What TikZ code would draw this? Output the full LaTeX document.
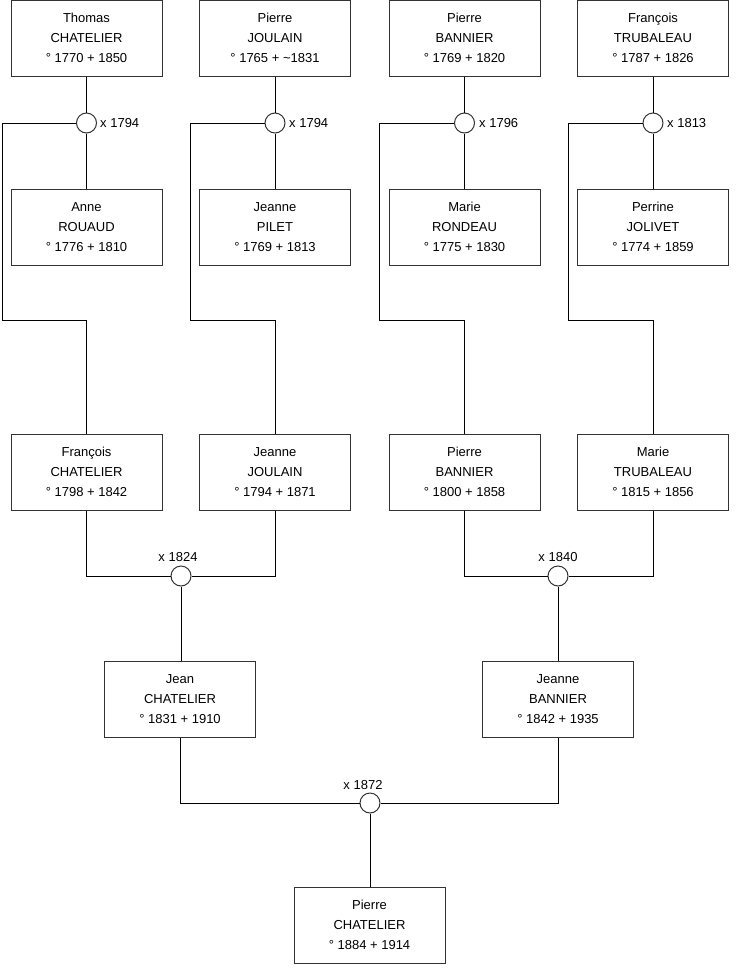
\documentclass[tikz,border=0pt]{standalone}
\usepackage{fontspec}
\setmainfont{Liberation Sans}
\newcommand\personText[3]{\raisebox{3pt}{\begin{tabular}{@{}c@{}}#1\\#2\\#3\end{tabular}}}
\begin{document}
\begin{tikzpicture}[x=1pt,y=-1pt,
  person/.style={draw=black!80,line width=1pt,minimum width=151pt,minimum height=76pt,inner sep=0pt,
    font=\fontsize{13}{20}\selectfont,fill=white},
  marr/.style={circle,draw=black!80,line width=1pt,minimum size=20pt,inner sep=0pt,fill=white},
  lbl/.style={font=\fontsize{13}{16}\selectfont,inner sep=0pt},
  link/.style={draw=black,line width=1pt}]
\useasboundingbox (0,0) rectangle (740,975);
% top row
\node[person] (p1) at (86.5,38.5) {\personText{Thomas}{CHATELIER}{° 1770 + 1850}};
\node[person] (p2) at (275,38.5) {\personText{Pierre}{JOULAIN}{° 1765 + \textasciitilde1831}};
\node[person] (p3) at (464.5,38.5) {\personText{Pierre}{BANNIER}{° 1769 + 1820}};
\node[person] (p4) at (653,38.5) {\personText{François}{TRUBALEAU}{° 1787 + 1826}};
% wives
\node[person] (w1) at (86.5,227) {\personText{Anne}{ROUAUD}{° 1776 + 1810}};
\node[person] (w2) at (275,227) {\personText{Jeanne}{PILET}{° 1769 + 1813}};
\node[person] (w3) at (464.5,227) {\personText{Marie}{RONDEAU}{° 1775 + 1830}};
\node[person] (w4) at (653,227) {\personText{Perrine}{JOLIVET}{° 1774 + 1859}};
% children
\node[person] (c1) at (86.5,472) {\personText{François}{CHATELIER}{° 1798 + 1842}};
\node[person] (c2) at (275,472) {\personText{Jeanne}{JOULAIN}{° 1794 + 1871}};
\node[person] (c3) at (464.5,472) {\personText{Pierre}{BANNIER}{° 1800 + 1858}};
\node[person] (c4) at (653,472) {\personText{Marie}{TRUBALEAU}{° 1815 + 1856}};
% grandchildren
\node[person] (g1) at (180,699) {\personText{Jean}{CHATELIER}{° 1831 + 1910}};
\node[person] (g2) at (558,699) {\personText{Jeanne}{BANNIER}{° 1842 + 1935}};
% final
\node[person] (f) at (369.5,925.5) {\personText{Pierre}{CHATELIER}{° 1884 + 1914}};
% marriage circles
\node[marr] (m1) at (86.5,123) {};
\node[marr] (m2) at (275,123) {};
\node[marr] (m3) at (464.5,123) {};
\node[marr] (m4) at (653,123) {};
\node[marr] (m5) at (181,576) {};
\node[marr] (m6) at (558,576) {};
\node[marr] (m7) at (370,803) {};
% labels
\node[lbl,anchor=west] (l1) at (100,123) {x 1794};
\node[lbl,anchor=west] (l2) at (289,123) {x 1794};
\node[lbl,anchor=west] (l3) at (479,123) {x 1796};
\node[lbl,anchor=west] (l4) at (667,123) {x 1813};
\node[lbl] (l5) at (178,557) {x 1824};
\node[lbl] (l6) at (558,557) {x 1840};
\node[lbl] (l7) at (363,785) {x 1872};
% connectors top
\foreach \i in {1,2,3,4}{
  \draw[link] (p\i.south) -- (m\i.north);
  \draw[link] (m\i.south) -- (w\i.north);
}
\coordinate (k1) at (2,320);
\coordinate (k2) at (190.5,320);
\coordinate (k3) at (379.5,320);
\coordinate (k4) at (568.5,320);
\foreach \i in {1,2,3,4}{
  \draw[link] (m\i.west) -| (k\i) -| (c\i.north);
}
% generation 2
\draw[link] (c1.south) |- (m5.west);
\draw[link] (c2.south) |- (m5.east);
\draw[link] (c3.south) |- (m6.west);
\draw[link] (c4.south) |- (m6.east);
\draw[link] (m5.south) -- (g1.north -| m5.south);
\draw[link] (m6.south) -- (g2.north);
% generation 3
\draw[link] (g1.south) |- (m7.west);
\draw[link] (g2.south) |- (m7.east);
\draw[link] (m7.south) -- (f.north -| m7.south);
\end{tikzpicture}
\end{document}
